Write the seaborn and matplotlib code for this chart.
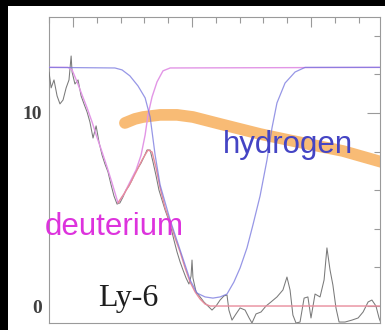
import matplotlib
matplotlib.use("Agg")
import matplotlib.pyplot as plt
import matplotlib.patches as mpatches
from matplotlib.ticker import MultipleLocator, FixedLocator
import seaborn as sns
import pandas as pd

# ---------------- data (velocity in km/s, flux in arbitrary units) ----------------
continuum = 12.36

data_v = [-60.1, -59.2, -58.0, -56.7, -55.5, -54.2, -52.9, -51.7, -50.8, -50.4, -49.2, -47.9,
          -46.6, -45.4, -44.1, -42.9, -41.6, -40.3, -39.1, -37.8, -36.6, -35.3, -34.0, -32.8,
          -31.5, -30.3, -29.0, -27.7, -26.5, -25.2, -24.0, -22.7, -21.4, -20.2, -18.9, -17.6,
          -16.4, -15.1, -13.9, -12.6, -11.3, -10.1, -8.8, -7.6, -6.3, -5.0, -3.8, -2.5, -1.3,
          -0.4, 0.0, 0.4, 1.7, 3.4, 5.0, 6.7, 8.4, 10.1, 11.8, 13.4, 14.7, 15.5, 16.8, 18.5,
          20.2, 22.3, 24.0, 25.2, 26.9, 29.0, 31.1, 33.2, 35.7, 38.2, 39.9, 41.2, 42.4, 43.7,
          45.4, 47.1, 48.7, 50.0, 51.7, 53.8, 55.5, 56.7, 58.0, 59.2, 60.5, 61.8, 64.3, 67.2,
          69.8, 71.9, 74.0, 75.6, 77.3, 78.6, 79.4]
data_f = [12.12, 11.30, 11.71, 10.88, 10.47, 10.67, 11.30, 11.71, 12.95, 12.12, 11.50, 11.71,
          10.88, 10.47, 10.05, 9.53, 8.70, 9.33, 8.50, 7.82, 7.36, 6.94, 6.27, 5.70,
          5.28, 5.34, 5.65, 6.01, 6.22, 6.53, 6.89, 7.15, 7.41, 7.72, 8.08, 8.08,
          7.46, 6.74, 6.01, 5.49, 4.97, 4.56, 4.04, 3.42, 2.80, 2.28, 1.87, 1.45, 1.14,
          1.55, 2.38, 1.45, 0.73, 0.47, 0.21, 0.00, -0.21, 0.00, 0.31, 0.52, 0.57, -0.21, -0.73, -0.41,
          -0.10, -0.21, -0.62, -0.88, -0.41, -0.31, 0.00, 0.21, 0.47, 0.83, 1.50, 0.83, -0.47, -0.88,
          -0.83, 0.41, 0.47, -0.62, 0.62, 0.47, 1.35, 3.01, 1.87, 1.09, -0.10, -0.83, -0.83, -0.73,
          -0.62, -0.31, 0.21, 0.31, 0.00, -0.62, -0.88]

hyd_v = [-60.1, -32.4, -29.4, -26.1, -22.7, -19.7, -17.6, -15.5, -13.4, -9.2, -5.0, -0.8, 2.1,
         5.5, 8.8, 11.8, 14.7, 17.6, 20.2, 23.1, 25.6, 28.6, 31.5, 33.6, 35.7, 39.1, 43.3, 47.5, 79.0]
hyd_f = [12.36, 12.33, 12.23, 11.92, 11.40, 10.78, 9.79, 7.82, 6.27, 4.46, 2.90, 1.35, 0.67,
         0.47, 0.41, 0.47, 0.62, 1.24, 1.97, 3.01, 4.20, 5.70, 7.56, 9.22, 10.52, 11.55, 12.12, 12.36, 12.36]

deut_v = [-60.1, -52.1, -50.4, -48.3, -46.2, -44.1, -42.0, -40.0, -37.8, -35.7, -33.6, -31.1,
          -28.6, -26.1, -23.5, -21.4, -19.7, -18.5, -16.8, -14.7, -12.2, -9.2, 79.0]
deut_f = [12.36, 12.36, 12.23, 11.61, 10.93, 10.26, 9.53, 8.76, 7.98, 7.20, 6.37, 5.34,
          5.80, 6.42, 7.05, 7.82, 8.86, 9.90, 10.83, 11.61, 12.18, 12.33, 12.36]

comb_v = [-31.1, -28.6, -26.1, -23.5, -21.0, -18.5, -16.8, -15.1, -13.4, -11.3, -9.2, -7.1,
          -5.0, -2.9, -0.8, 1.3, 3.4, 5.5, 7.6, 79.0]
comb_f = [5.34, 5.80, 6.32, 6.94, 7.56, 8.08, 7.98, 7.15, 6.11, 5.08, 4.35, 3.52,
          2.80, 1.97, 1.24, 0.73, 0.36, 0.10, 0.00, 0.00]

band_v = [-28.2, -24.0, -20.6, -13.4, -6.3, 0.4, 11.8, 28.6, 42.4, 63.4, 81.1]
band_f = [9.48, 9.69, 9.79, 9.90, 9.90, 9.79, 9.43, 8.91, 8.55, 8.03, 7.41]

y_major = [0, 10]
y_labels = ["0", "10"]

# ---------------- figure ----------------
sns.set_style("white")
plt.rcParams['font.family'] = ['Liberation Sans', 'DejaVu Sans']

fig = plt.figure(figsize=(3.85, 3.30), dpi=100, facecolor="black")
fig.patches.append(mpatches.Rectangle((8 / 385, 0), 1 - 8 / 385, 1 - 6 / 330,
                                      transform=fig.transFigure, facecolor="white",
                                      edgecolor="none", zorder=-10))
ax = fig.add_axes([49 / 385, 1 - 323 / 330, (380 - 49) / 385, (323 - 17) / 330])
ax.set_zorder(5)
ax.set_facecolor("none")

def line(v, f, **kw):
    sns.lineplot(x=v, y=f, ax=ax, sort=False, estimator=None, legend=False, **kw)

line(band_v, band_f, color="#f7a84e", linewidth=8.4, alpha=0.78, solid_capstyle="round", zorder=1)
line(data_v, data_f, color="#7a7a7a", linewidth=0.75, zorder=3)
line(deut_v, deut_f, color="#e296e6", linewidth=1.0, zorder=4)
line(comb_v, comb_f, color="#e88c9c", linewidth=1.0, zorder=4)
line(hyd_v, hyd_f, color="#7474de", linewidth=0.9, alpha=0.75, zorder=5)

ax.set_xlim(-60.1, 79.0)
ax.set_ylim(-0.88, 14.97)

for s in ax.spines.values():
    s.set_color("#9a9a9a")
    s.set_linewidth(0.8)
    s.set_visible(True)

ax.xaxis.set_major_locator(MultipleLocator(50))
ax.xaxis.set_minor_locator(MultipleLocator(10))
ax.yaxis.set_major_locator(FixedLocator(y_major))
ax.yaxis.set_minor_locator(MultipleLocator(2))
ax.set_xticklabels([])
ax.set_yticks(y_major)
ax.set_yticklabels(y_labels, family="Liberation Serif", fontweight="bold", fontsize=14, color="#404040")
ax.tick_params(axis="both", which="both", direction="in", top=True, right=True, colors="#9a9a9a",
               width=0.8, labelcolor="#404040")
ax.tick_params(axis="y", which="major", length=9.5, pad=5)
ax.tick_params(axis="y", which="minor", length=4.5)
ax.tick_params(axis="x", which="major", length=7.5, labelbottom=False)
ax.tick_params(axis="x", which="minor", length=4.5)
ax.set_xlabel("")
ax.set_ylabel("")

ax.text(13.0, 7.93, "hydrogen", color="#4444c4", fontsize=22.5, family="Liberation Sans",
        ha="left", va="baseline", zorder=6)
ax.text(-61.8, 3.68, "deuterium", color="#dd33dd", fontsize=22.5, family="Liberation Sans",
        ha="left", va="baseline", zorder=6, clip_on=False)
ax.text(-39.5, 0.0, "Ly-6", color="#1e1e1e", fontsize=23, family="Liberation Serif",
        ha="left", va="baseline", zorder=6)

fig.savefig("out.png", dpi=100, facecolor=fig.get_facecolor())
